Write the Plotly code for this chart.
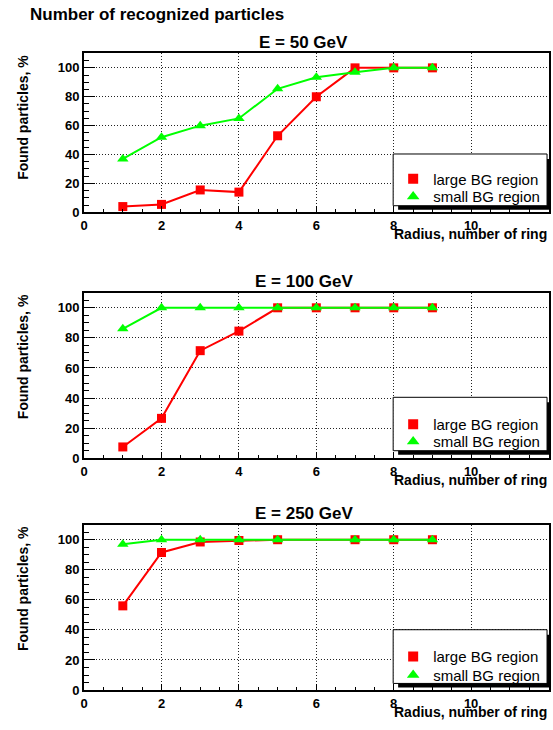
import plotly.graph_objects as go

W, H = 553, 730

# ---- data ----
radius = [1, 2, 3, 4, 5, 6, 7, 8, 9]
large_50 = [4, 5.5, 15.5, 14, 53, 80, 100, 100, 100]
small_50 = [37, 52, 60, 65, 85.5, 93.5, 97, 100, 100]
large_100 = [7.5, 26.5, 71.5, 84.5, 100, 100, 100, 100, 100]
small_100 = [86, 100, 100, 100, 100, 100, 100, 100, 100]
radius_250 = [1, 2, 3, 4, 5, 7, 8, 9]
large_250 = [56, 91.5, 98.5, 99.5, 100, 100, 100, 100]
small_250 = [97, 100, 100, 100, 100, 100, 100, 100]

panel_titles = ["E = 50 GeV", "E = 100 GeV", "E = 250 GeV"]
series_names = ["large BG region", "small BG region"]
main_title = "Number of recognized particles"
x_title = "Radius, number of ring"
y_title = "Found particles, %"

panels_data = [
    (radius, large_50, radius, small_50),
    (radius, large_100, radius, small_100),
    (radius_250, large_250, radius_250, small_250),
]

# ---- layout geometry (pixels) ----
PX_L, PX_R = 80.7, 548.5
panel_px = [
    dict(top=54, bottom=214.7, leg_top=155.7, leg_bot=208, e=(181, 199)),
    dict(top=296, bottom=463.3, leg_top=401.7, leg_bot=455.7, e=(429.3, 446.7)),
    dict(top=530.5, bottom=697.7, leg_top=636.7, leg_bot=691, e=(664, 682.7)),
]
LEG_L, LEG_R = 392, 547

def fx(x):
    return x / W

def fy(y):
    return 1 - y / H

RED = "#ff0000"
GREEN = "#00ff00"
FONT = "Liberation Sans, Arial, Helvetica, sans-serif"

fig = go.Figure()
layout = dict(
    width=W, height=H,
    margin=dict(l=0, r=0, t=0, b=0),
    paper_bgcolor="white", plot_bgcolor="white",
    font=dict(family=FONT, color="black"),
    showlegend=True,
    annotations=[], shapes=[],
)

styles = [
    dict(symbol="square", size=9, color=RED),
    dict(symbol="triangle-up", size=10, color=GREEN),
]
leg_styles = [
    dict(symbol="square", size=10, color=RED),
    dict(symbol="triangle-up", size=11, color=GREEN),
]
colors = [RED, GREEN]

leg_idx = 0
for i, (xl, yl, xs, ys) in enumerate(panels_data):
    n = "" if i == 0 else str(i + 1)
    xa, ya = "x" + n, "y" + n
    p = panel_px[i]
    for k, (xx, yy) in enumerate([(xl, yl), (xs, ys)]):
        fig.add_trace(go.Scatter(
            x=xx, y=yy, mode="lines+markers", xaxis=xa, yaxis=ya,
            line=dict(color=colors[k], width=2),
            marker=styles[k], showlegend=False, cliponaxis=False))
    # legend entries (markers only, as in the reference), one legend per entry
    for k in range(2):
        leg_idx += 1
        lg = "legend" if leg_idx == 1 else "legend" + str(leg_idx)
        fig.add_trace(go.Scatter(
            x=[None], y=[None], mode="markers", xaxis=xa, yaxis=ya,
            name=series_names[k], legend=lg, marker=leg_styles[k]))
        layout[lg] = dict(
            x=fx(LEG_L), xanchor="left", y=fy(p["e"][k]), yanchor="middle",
            bgcolor="rgba(0,0,0,0)", borderwidth=0,
            font=dict(family=FONT, size=15, color="black"),
        )

    axis_common = dict(
        showline=True, linecolor="black", linewidth=2, mirror=True,
        ticks="inside", tickcolor="black", tickwidth=1,
        showgrid=True, gridcolor="#222", gridwidth=1, griddash="1px,2px",
        zeroline=False, fixedrange=True,
        tickfont=dict(family=FONT, size=13, weight="bold", color="black"),
    )
    layout["xaxis" + n] = dict(
        axis_common, domain=[fx(PX_L), fx(PX_R)], range=[0, 12],
        tick0=0, dtick=2, ticklen=6, anchor=ya,
        minor=dict(ticks="inside", ticklen=3, dtick=0.5, tick0=0,
                   tickcolor="black", showgrid=False),
    )
    layout["yaxis" + n] = dict(
        axis_common, domain=[fy(p["bottom"]), fy(p["top"])], range=[0, 110],
        tick0=0, dtick=20, ticklen=11, anchor=xa,
        minor=dict(ticks="inside", ticklen=5, dtick=5, tick0=0,
                   tickcolor="black", showgrid=False),
    )
    # legend box with shadow
    layout["shapes"].append(dict(
        type="rect", xref="paper", yref="paper", layer="above",
        x0=fx(LEG_L + 5), x1=fx(LEG_R + 4), y0=fy(p["leg_bot"] + 4), y1=fy(p["leg_top"] + 5),
        fillcolor="black", line=dict(width=0)))
    layout["shapes"].append(dict(
        type="rect", xref="paper", yref="paper", layer="above",
        x0=fx(LEG_L), x1=fx(LEG_R), y0=fy(p["leg_bot"]), y1=fy(p["leg_top"]),
        fillcolor="white", line=dict(color="black", width=1)))
    # panel title
    layout["annotations"].append(dict(
        text=panel_titles[i], xref="paper", yref="paper",
        x=fx(302), y=fy(p["top"] - 11), xanchor="center", yanchor="middle",
        showarrow=False, font=dict(family=FONT, size=17, weight="bold")))
    # x title (right aligned)
    layout["annotations"].append(dict(
        text=x_title, xref="paper", yref="paper",
        x=fx(549), y=fy(p["bottom"] + 22), xanchor="right", yanchor="middle",
        showarrow=False, font=dict(family=FONT, size=14, weight="bold")))
    # y title (rotated, top aligned)
    layout["annotations"].append(dict(
        text=y_title, xref="paper", yref="paper", textangle=-90,
        x=fx(19), y=fy(p["top"] - 1), xanchor="center", yanchor="top",
        showarrow=False, font=dict(family=FONT, size=14, weight="bold")))

layout["annotations"].append(dict(
    text=main_title, xref="paper", yref="paper",
    x=fx(24), y=fy(15), xanchor="left", yanchor="middle",
    showarrow=False, font=dict(family=FONT, size=17, weight="bold")))

fig.update_layout(**layout)
fig.write_html("out.html")
